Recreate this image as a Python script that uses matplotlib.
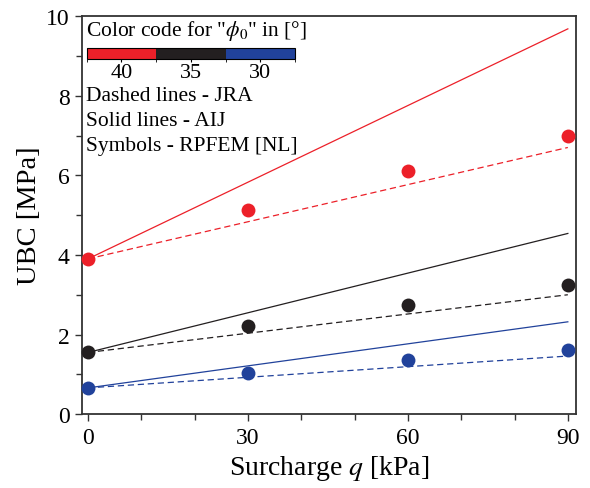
import matplotlib.pyplot as plt
import numpy as np
from matplotlib.colors import ListedColormap, BoundaryNorm
from matplotlib.ticker import MultipleLocator

plt.rcParams['font.family'] = ['Liberation Serif', 'DejaVu Serif']
plt.rcParams['mathtext.fontset'] = 'stix'

# surcharge q [kPa]
q = [0, 30, 60, 90]
q_line = [0, 90]

# friction angles and colours
phi = ['40', '35', '30']
colors = ['#ec2029', '#231f20', '#21429b']

# RPFEM [NL] symbols
ubc_rpfem = [
    [3.90, 5.12, 6.10, 7.00],
    [1.57, 2.22, 2.75, 3.25],
    [0.66, 1.04, 1.35, 1.62],
]
# AIJ (solid) end values at q=0 and q=90
ubc_aij = [
    [3.90, 9.68],
    [1.55, 4.54],
    [0.66, 2.32],
]
# JRA (dashed)
ubc_jra = [
    [3.90, 6.70],
    [1.55, 3.00],
    [0.66, 1.46],
]

fig = plt.figure(figsize=(5.9, 4.89), dpi=100)
ax = fig.add_axes([0.139, 0.151, 0.837, 0.814])

for i, c in enumerate(colors):
    ax.plot(q_line, ubc_aij[i], '-', color=c, lw=0.9)
    ax.plot(q_line, ubc_jra[i], '--', color=c, lw=0.9, dashes=(5, 3))
    ax.plot(q, ubc_rpfem[i], 'o', color=c, ms=10, mec='none', clip_on=False, zorder=5)

ax.set_xlim(-1.1, 91.5)
ax.set_ylim(0, 10)
ax.set_xticks([0, 30, 60, 90])
ax.xaxis.set_minor_locator(MultipleLocator(10))
ax.yaxis.set_major_locator(MultipleLocator(2))
ax.yaxis.set_minor_locator(MultipleLocator(1))
ax.tick_params(which='both', direction='out', top=False, right=False,
               labelsize=17, width=1.0, color='#333333', pad=4)
ax.tick_params(which='major', length=5)
ax.tick_params(which='minor', length=4)
for s in ax.spines.values():
    s.set_linewidth(1.3)
    s.set_color('#333333')

ax.set_xlabel('Surcharge $q$ [kPa]', fontsize=20, labelpad=4)
ax.set_ylabel('UBC [MPa]', fontsize=20.5, labelpad=3)

# colour code bar
cax = fig.add_axes([0.147, 0.877, 0.353, 0.022])
cmap = ListedColormap(colors)
norm = BoundaryNorm([0, 1, 2, 3], cmap.N)
cb = fig.colorbar(plt.cm.ScalarMappable(norm=norm, cmap=cmap), cax=cax,
                  orientation='horizontal', ticks=[0.5, 1.5, 2.5])
cb.set_ticklabels(phi)
cb.outline.set_linewidth(0.8)
cax.tick_params(labelsize=16, length=2, width=0.8, pad=1)

ax.text(0.008, 0.965, 'Color code for "$\\phi_0$" in [°]', transform=ax.transAxes,
        fontsize=15.5, va='center', ha='left')
ax.text(0.008, 0.80, 'Dashed lines - JRA', transform=ax.transAxes, fontsize=15.5, va='center')
ax.text(0.008, 0.738, 'Solid lines - AIJ', transform=ax.transAxes, fontsize=15.5, va='center')
ax.text(0.008, 0.676, 'Symbols - RPFEM [NL]', transform=ax.transAxes, fontsize=15.5, va='center')

plt.savefig('out.png', dpi=100)
